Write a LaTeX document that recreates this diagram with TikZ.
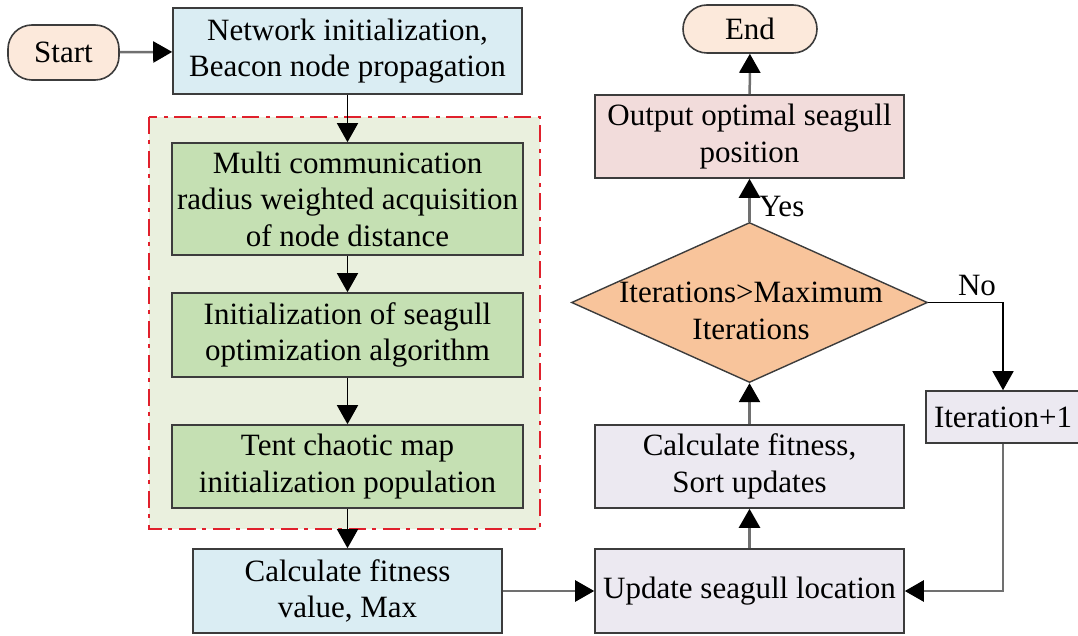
\documentclass[tikz,border=0pt]{standalone}
\usepackage{fontspec}
\setmainfont{Liberation Serif}
\newfontfamily\tnr{Liberation Serif}
\usetikzlibrary{arrows.meta,shapes.geometric}
\definecolor{termfill}{HTML}{FCE9DB}
\definecolor{bluefill}{HTML}{DAEDF3}
\definecolor{greenfill}{HTML}{C5E0B3}
\definecolor{areafill}{HTML}{EAF0DE}
\definecolor{pinkfill}{HTML}{F2DCDB}
\definecolor{orangefill}{HTML}{F8C49B}
\definecolor{lavfill}{HTML}{ECE9F1}
\definecolor{redline}{HTML}{E0202C}
\definecolor{border}{HTML}{3C3C3C}
\definecolor{grayline}{HTML}{707070}
\tikzset{
  txt/.style={font=\tnr\fontsize{31}{36.5}\selectfont, align=center, inner sep=0pt},
  boxnode/.style={txt, draw=border, line width=1.6pt, rectangle},
  term/.style={boxnode, fill=termfill, rounded corners=24pt},
  bluebox/.style={boxnode, fill=bluefill},
  greenbox/.style={boxnode, fill=greenfill},
  pinkbox/.style={boxnode, fill=pinkfill},
  lavbox/.style={boxnode, fill=lavfill},
  dia/.style={shape=diamond, draw=border, line width=1.4pt, fill=orangefill, inner sep=0pt},
  tip/.style={-{Triangle[length=19pt,width=21pt,color=black,fill=black]}},
  blackconn/.style={tip, draw=black, line width=1.5pt},
  grayconn/.style={tip, draw=grayline, line width=2.5pt},
  area/.style={draw=redline, fill=areafill, line width=2pt,
    dash pattern=on 17pt off 6pt on 4pt off 7pt},
}
\begin{document}
\begin{tikzpicture}[x=1pt,y=-1pt]
\useasboundingbox (0,0) rectangle (1078,636);
% grouping area
\path[area] (149,117) rectangle (540,529);

% nodes
\node[term, minimum width=111pt, minimum height=55pt] (start) at (63.5,52.5) {Start};
\node[bluebox, minimum width=349pt, minimum height=86pt] (net) at (347.5,51) {Network initialization,\\Beacon node propagation};
\node[greenbox, minimum width=351pt, minimum height=112pt] (multi) at (347.5,199) {Multi communication\\radius weighted acquisition\\of node distance};
\node[greenbox, minimum width=351pt, minimum height=84pt] (init) at (347.5,335) {Initialization of seagull\\optimization algorithm};
\node[greenbox, minimum width=351pt, minimum height=83pt] (tent) at (347.5,466.5) {Tent chaotic map\\initialization population};
\node[bluebox, minimum width=309pt, minimum height=84pt] (calcv) at (347.5,591) {Calculate fitness\\value, Max};
\node[lavbox, minimum width=309pt, minimum height=84pt] (update) at (749.5,591) {Update seagull location};
\node[lavbox, minimum width=309pt, minimum height=83pt] (calcs) at (749.5,466.5) {Calculate fitness,\\Sort updates};
\node[dia, minimum width=356pt, minimum height=160pt] (dec) at (749.5,302.5) {};
\node[txt] (dectext) at (751,311) {Iterations>Maximum\\Iterations};
\node[pinkbox, minimum width=309pt, minimum height=83pt] (out) at (749.5,136.5) {Output optimal seagull\\position};
\node[term, minimum width=134pt, minimum height=48pt] (end) at (750,29) {End};
\node[lavbox, minimum width=154pt, minimum height=52pt] (iter) at (1003,417) {Iteration+1};

% labels
\node[txt, anchor=west] (yes) at (759,207) {Yes};
\node[txt] (no) at (977,286) {No};

% connectors
\draw[grayconn] (start) -- (net);
\draw[blackconn] (net) -- (multi);
\draw[blackconn] (multi) -- (init);
\draw[blackconn] (init) -- (tent);
\draw[blackconn] (tent) -- (calcv);
\draw[grayconn] (calcv) -- (update);
\draw[grayconn] (update) -- (calcs);
\draw[grayconn] (calcs) -- (dec.south);
\draw[grayconn] (dec.north) -- (out);
\draw[grayconn] (out) -- (end);
\draw[blackconn] (dec.east) -| (iter.north);
\draw[grayconn] (iter.south) |- (update.east);
\end{tikzpicture}
\end{document}
